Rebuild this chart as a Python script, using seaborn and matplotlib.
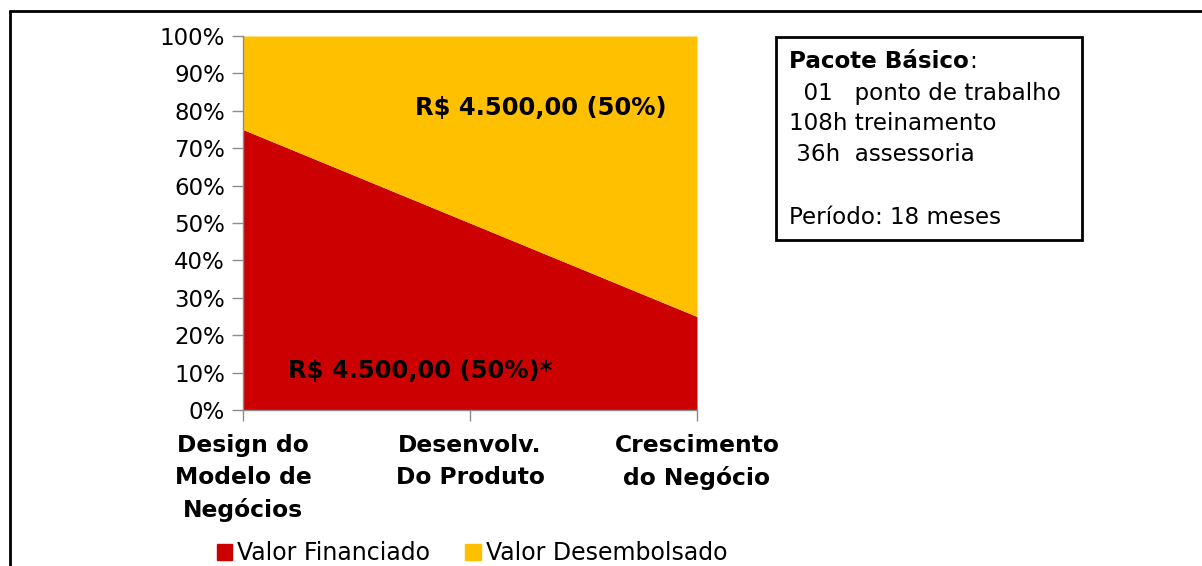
import matplotlib
matplotlib.use("Agg")
import matplotlib.pyplot as plt
from matplotlib.lines import Line2D
from matplotlib.patches import Rectangle
import seaborn as sns
import pandas as pd

# Dados
etapas = ["Design do\nModelo de\nNegócios", "Desenvolv.\nDo Produto", "Crescimento\ndo Negócio"]
valor_financiado = [75, 50, 25]
valor_desembolsado = [25, 50, 75]
series = ["Valor Financiado", "Valor Desembolsado"]
cores = ["#CC0000", "#FFC000"]
yticks = [0, 10, 20, 30, 40, 50, 60, 70, 80, 90, 100]

df = pd.DataFrame({"etapa": etapas, series[0]: valor_financiado, series[1]: valor_desembolsado})

sns.set_theme(style="white")
plt.rcParams["font.family"] = ["DejaVu Sans"]
plt.rcParams["text.color"] = "black"

fig = plt.figure(figsize=(12.02, 5.66), dpi=100)
ax = fig.add_axes([243 / 1202, 1 - 410 / 566, (697 - 243) / 1202, (410 - 36) / 566])

x = list(range(len(etapas)))
ax.stackplot(x, df[series[0]], df[series[1]], colors=cores, labels=series, linewidth=0)

ax.set_xlim(0, len(etapas) - 1)
ax.set_ylim(0, 100)
ax.set_yticks(yticks)
ax.set_yticklabels([f"{v}%" for v in yticks], fontsize=16.5, color="black")
ax.set_xticks(x)
ax.set_xticklabels(etapas, fontsize=16.8, fontweight="bold", color="black", linespacing=1.5)
ax.tick_params(axis="y", length=8, width=1, color="#8c8c8c", left=True, pad=5)
ax.tick_params(axis="x", length=8, width=1, color="#8c8c8c", bottom=True, pad=9)
for s in ["top", "right"]:
    ax.spines[s].set_visible(False)
for s in ["left", "bottom"]:
    ax.spines[s].set_color("#8c8c8c")
    ax.spines[s].set_linewidth(1)
ax.set_xlabel("")
ax.set_ylabel("")

# Rótulos
ax.text(1.865, 80.7, "R$ 4.500,00 (50%)", ha="right", va="center", fontsize=17.5, fontweight="bold", color="black")
ax.text(0.2, 10.5, "R$ 4.500,00 (50%)*", ha="left", va="center", fontsize=17.5, fontweight="bold", color="black")

# Legenda
handles = [Rectangle((0, 0), 1, 1, color=c) for c in cores]
fig.legend(handles, series, loc="center", bbox_to_anchor=(472 / 1202, 1 - 553 / 566), ncol=2,
           frameon=False, fontsize=17, handlelength=0.65, handleheight=0.65, handletextpad=0.2,
           columnspacing=1.5)

# Caixa de texto
fig.add_artist(Rectangle((776 / 1202, 1 - 240 / 566), (1082 - 776) / 1202, (240 - 37) / 566,
                         transform=fig.transFigure, fill=False, edgecolor="black", linewidth=2))
fig.text(789 / 1202, 1 - 62 / 566, "Pacote Básico", fontsize=16.6, fontweight="bold", va="center", ha="left", color="black")
fig.text(969 / 1202, 1 - 62 / 566, ":", fontsize=16.6, va="center", ha="left", color="black")
linhas = ["  01   ponto de trabalho", "108h treinamento", " 36h  assessoria", "", "Período: 18 meses"]
for i, t in enumerate(linhas):
    fig.text(789 / 1202, 1 - (93 + 31 * i) / 566, t, fontsize=16.6, va="center", ha="left", color="black")

# Moldura externa
fig.add_artist(Line2D([10 / 1202, 1.0], [1 - 11 / 566, 1 - 11 / 566], transform=fig.transFigure, color="black", linewidth=2))
fig.add_artist(Line2D([10 / 1202, 10 / 1202], [0, 1 - 11 / 566], transform=fig.transFigure, color="black", linewidth=2))

fig.savefig("out.png", dpi=100)
